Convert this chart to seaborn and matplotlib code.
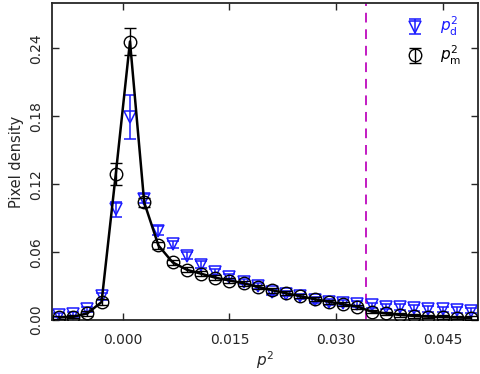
import numpy as np
import pandas as pd
import matplotlib
matplotlib.use("Agg")
import matplotlib.pyplot as plt
import seaborn as sns

sns.set_style("ticks")
plt.rcParams['font.family'] = ['DejaVu Sans']
plt.rcParams['mathtext.fontset'] = 'dejavusans'

# bin centres of p^2
p2 = [-0.009, -0.007, -0.005, -0.003, -0.001, 0.001, 0.003, 0.005, 0.007, 0.009,
      0.011, 0.013, 0.015, 0.017, 0.019, 0.021, 0.023, 0.025, 0.027, 0.029,
      0.031, 0.033, 0.035, 0.037, 0.039, 0.041, 0.043, 0.045, 0.047, 0.049]

# p_m^2 (black circles)
dens_m = [0.0024, 0.003, 0.006, 0.016, 0.129, 0.246, 0.104, 0.066, 0.051, 0.0445,
          0.041, 0.0375, 0.035, 0.0325, 0.0293, 0.0264, 0.0237, 0.0211, 0.0185, 0.0162,
          0.0140, 0.0120, 0.0075, 0.0059, 0.0046, 0.0037, 0.0031, 0.0027, 0.0023, 0.0020]
err_m = [0.0015, 0.0015, 0.002, 0.003, 0.0095, 0.012, 0.004, 0.003, 0.0025, 0.002,
         0.002, 0.002, 0.002, 0.002, 0.002, 0.002, 0.0018, 0.0018, 0.0018, 0.0018,
         0.0018, 0.0018, 0.0016, 0.0016, 0.0015, 0.0015, 0.0015, 0.0015, 0.0015, 0.0015]

# p_d^2 (blue triangles)
dens_d = [0.0044, 0.005, 0.0094, 0.021, 0.098, 0.179, 0.107, 0.079, 0.067, 0.057,
          0.049, 0.0425, 0.038, 0.034, 0.030, 0.025, 0.0235, 0.021, 0.018, 0.016,
          0.015, 0.0145, 0.013, 0.012, 0.0115, 0.011, 0.010, 0.0095, 0.009, 0.0085]
err_d = [0.002, 0.002, 0.0025, 0.003, 0.0065, 0.0195, 0.004, 0.004, 0.003, 0.003,
         0.003, 0.003, 0.0025, 0.0025, 0.0025, 0.0025, 0.0025, 0.0025, 0.0025, 0.0025,
         0.0025, 0.0025, 0.0025, 0.0025, 0.0025, 0.0025, 0.0025, 0.0025, 0.0025, 0.0025]

cut = 0.0342

df = pd.DataFrame({'p2': p2, 'm': dens_m, 'em': err_m, 'd': dens_d, 'ed': err_d})

fig = plt.figure(figsize=(4.8, 3.74), dpi=100)
ax = fig.add_axes([0.108, 0.144, 0.888, 0.848])

sns.lineplot(data=df, x='p2', y='m', color='black', lw=1.8, ax=ax, zorder=3)

ax.errorbar(df['p2'], df['d'], yerr=df['ed'], fmt='v', ms=8, mfc='none', mec='#1a1aff',
            mew=1.1, ecolor='#1a1aff', elinewidth=1.1, capsize=4, capthick=1.1,
            label=r'$p_\mathrm{d}^2$', zorder=2)
ax.errorbar(df['p2'], df['m'], yerr=df['em'], fmt='o', ms=9, mfc='none', mec='black',
            mew=1.0, ecolor='black', elinewidth=1.0, capsize=4, capthick=1.0,
            label=r'$p_\mathrm{m}^2$', zorder=4)

ax.axvline(cut, color='#c21bc2', lw=1.4, ls=(0, (5, 3.5)))

ax.set_xlim(-0.01, 0.05)
ax.set_ylim(0, 0.28)
ax.set_xticks([0.0, 0.015, 0.030, 0.045])
ax.set_xticklabels(['0.000', '0.015', '0.030', '0.045'])
ax.set_yticks([0.0, 0.06, 0.12, 0.18, 0.24])
ax.set_yticklabels(['0.00', '0.06', '0.12', '0.18', '0.24'], rotation=90, va='center')
ax.tick_params(direction='in', length=5, width=1, top=True, right=True, labelsize=10, pad=6)
ax.tick_params(axis='x', pad=9)
for s in ax.spines.values():
    s.set_linewidth(1.3)

ax.set_xlabel(r'$p^2$', fontsize=11, labelpad=2)
ax.set_ylabel('Pixel density', fontsize=10.5)

leg = ax.legend(loc='upper right', frameon=False, fontsize=11, handlelength=1.2,
                handletextpad=1.0, labelspacing=0.35, borderaxespad=0.3,
                bbox_to_anchor=(0.985, 0.995))
leg.get_texts()[0].set_color('#1a1aff')
leg.get_texts()[1].set_color('black')

fig.savefig('out.png', dpi=100)
